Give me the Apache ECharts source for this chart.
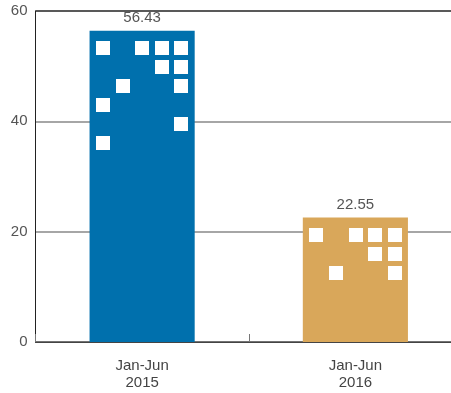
<!DOCTYPE html>
<html>
<head>
<meta charset="utf-8">
<script src="https://cdn.jsdelivr.net/npm/echarts@6/dist/echarts.min.js"></script>
<style>html,body{margin:0;padding:0;background:#fff;overflow:hidden}#c{width:462px;height:393px}</style>
</head>
<body>
<div id="c"></div>
<script>
var categories = ['Jan-Jun\n2015', 'Jan-Jun\n2016'];
var values = [56.43, 22.55];
var barColors = ['#0070ad', '#d9a75a'];
var yTicks = [0, 20, 40, 60];
// decorative window pattern (columns lit in each row, from the top)
var windows2015 = [[0, 2, 3, 4], [3, 4], [1, 4], [0], [4], [0]];
var windows2016 = [[0, 2, 3, 4], [3, 4], [1, 4]];
var windowPatterns = [windows2015, windows2016];

var chart = echarts.init(document.getElementById('c'));
var font = 'Liberation Sans, Arial, sans-serif';
chart.setOption({
  animation: false,
  grid: { left: 35.5, right: 0, top: 11, bottom: 51, containLabel: false },
  xAxis: {
    type: 'category',
    data: categories,
    axisLine: { lineStyle: { color: '#444', width: 1 } },
    axisTick: { show: true, inside: true, length: 8, lineStyle: { color: '#777' } },
    axisLabel: { color: '#444', fontSize: 15, fontFamily: font, lineHeight: 17, margin: 15 }
  },
  yAxis: {
    type: 'value',
    min: yTicks[0], max: yTicks[yTicks.length - 1], interval: 20,
    axisLine: { show: true, lineStyle: { color: '#222' } },
    axisTick: { show: false },
    axisLabel: { color: '#555', fontSize: 15, fontFamily: font, margin: 8 },
    splitLine: { show: true, lineStyle: { color: ['#444', '#888', '#888', '#222'], width: 1.5 } }
  },
  series: [
    {
      type: 'bar',
      data: values.map(function (v, i) { return { value: v, itemStyle: { color: barColors[i] } }; }),
      barWidth: '49.3%',
      label: { show: true, position: 'top', distance: 5, color: '#555', fontSize: 15, fontFamily: font },
      z: 2
    },
    {
      type: 'custom',
      data: values.map(function (v, i) { return [i, v]; }),
      z: 3,
      renderItem: function (params, api) {
        var idx = api.value(0);
        var top = api.coord([idx, api.value(1)]);
        var bw = api.size([1, 0])[0] * 0.493;
        var left = top[0] - bw / 2;
        var pattern = windowPatterns[params.dataIndex];
        var children = [];
        for (var r = 0; r < pattern.length; r++) {
          for (var k = 0; k < pattern[r].length; k++) {
            var c = pattern[r][k];
            children.push({
              type: 'rect',
              shape: { x: Math.round(left + 6.5 + c * 19.6), y: Math.round(top[1] + 10 + r * 19), width: 14, height: 14 },
              style: { fill: '#fff' }
            });
          }
        }
        return { type: 'group', children: children };
      }
    }
  ]
});
</script>
</body>
</html>
